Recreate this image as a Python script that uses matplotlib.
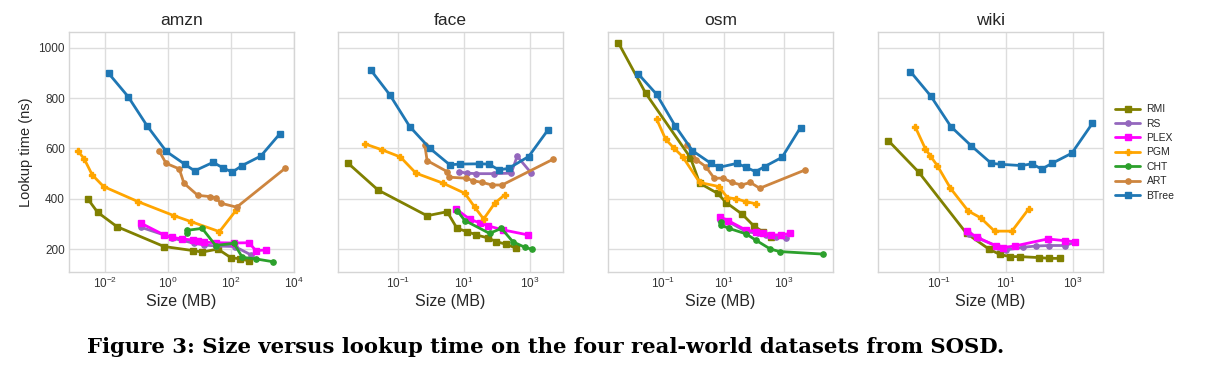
import matplotlib
matplotlib.use("Agg")
import matplotlib.pyplot as plt
import numpy as np

plt.style.use("seaborn-v0_8-whitegrid")
plt.rcParams["font.family"] = ["Liberation Sans", "DejaVu Sans"]
plt.rcParams["mathtext.fontset"] = "custom"
plt.rcParams["mathtext.rm"] = "Liberation Sans"
plt.rcParams["mathtext.it"] = "Liberation Sans:italic"
plt.rcParams["mathtext.bf"] = "Liberation Sans:bold"

datasets = ["amzn", "face", "osm", "wiki"]
methods = ["RMI", "RS", "PLEX", "PGM", "CHT", "ART", "BTree"]

# ---- amzn ----
amzn_RMI_x = [0.00288, 0.00575, 0.0237, 0.75, 6.17, 12.3, 38.9, 100, 195, 389]
amzn_RMI_y = [398, 347, 290, 211, 195, 189, 201, 167, 162, 154]
amzn_RS_x = [0.141, 0.75, 1.38, 6.92, 14.5, 34.7, 135, 437]
amzn_RS_y = [287, 257, 244, 224, 217, 213, 211, 178]
amzn_PLEX_x = [0.141, 0.75, 1.32, 2.75, 6.17, 8.91, 14.5, 34.7, 126, 380, 631, 1288]
amzn_PLEX_y = [303, 257, 248, 241, 237, 234, 228, 226, 225, 226, 195, 197]
amzn_PGM_x = [0.00138, 0.00219, 0.00389, 0.00891, 0.112, 1.51, 5.37, 43.7, 151]
amzn_PGM_y = [590, 557, 495, 449, 389, 334, 310, 270, 356]
amzn_CHT_x = [3.98, 3.98, 12.3, 33.1, 126, 234, 617, 2138]
amzn_CHT_y = [265, 275, 283, 215, 224, 168, 162, 151]
amzn_ART_x = [0.537, 0.871, 2.29, 3.24, 8.91, 21.9, 33.1, 47.9, 155, 5370]
amzn_ART_y = [588, 541, 519, 462, 414, 409, 405, 383, 367, 521]
amzn_BTree_x = [0.0129, 0.0537, 0.219, 0.891, 3.47, 7.08, 27.5, 56.2, 112, 229, 912, 3715]
amzn_BTree_y = [898, 806, 689, 588, 537, 511, 545, 523, 506, 532, 570, 659]

# ---- face ----
face_RMI_x = [0.00302, 0.0245, 0.759, 3.09, 6.17, 12.6, 24.0, 53.7, 97.7, 195, 389]
face_RMI_y = [541, 435, 333, 349, 283, 270, 257, 245, 230, 220, 204]
face_RS_x = [7.08, 12.0, 24.0, 83.2, 275, 417, 1122]
face_RS_y = [508, 502, 500, 500, 502, 569, 502]
face_PLEX_x = [5.89, 15.1, 30.2, 53.7, 155, 891]
face_PLEX_y = [359, 319, 305, 293, 277, 257]
face_PGM_x = [0.00977, 0.0331, 0.117, 0.347, 2.34, 10.7, 21.4, 39.8, 87.1, 174]
face_PGM_y = [618, 594, 566, 502, 462, 422, 367, 320, 383, 416]
face_CHT_x = [6.31, 10.7, 60.3, 138, 309, 708, 1175]
face_CHT_y = [352, 314, 263, 283, 230, 208, 200]
face_ART_x = [0.646, 0.759, 3.09, 3.55, 11.5, 19.1, 36.3, 72.4, 145, 5129]
face_ART_y = [614, 552, 508, 486, 482, 472, 465, 455, 455, 557]
face_BTree_x = [0.0145, 0.0562, 0.224, 0.912, 3.72, 7.41, 28.8, 56.2, 117, 229, 933, 3631]
face_BTree_y = [912, 812, 687, 601, 535, 538, 539, 538, 515, 521, 568, 674]

# ---- osm ----
osm_RMI_x = [0.00324, 0.0263, 0.794, 1.62, 6.31, 12.3, 41.7, 100, 204, 380]
osm_RMI_y = [1020, 819, 564, 462, 422, 385, 339, 293, 269, 248]
osm_RS_x = [7.41, 14.1, 56.2, 138, 263, 562, 1202]
osm_RS_y = [316, 310, 270, 263, 257, 248, 244]
osm_PLEX_x = [7.41, 14.1, 53.7, 123, 204, 380, 813, 1622]
osm_PLEX_y = [330, 314, 277, 270, 263, 257, 257, 263]
osm_PGM_x = [0.0603, 0.12, 0.224, 0.437, 1.62, 6.92, 13.5, 26.3, 56.2, 123]
osm_PGM_y = [717, 637, 602, 568, 465, 449, 405, 400, 389, 380]
osm_CHT_x = [7.94, 7.94, 15.1, 56.2, 115, 355, 724, 19498]
osm_CHT_y = [310, 297, 283, 261, 237, 201, 191, 181]
osm_ART_x = [0.617, 1.26, 2.57, 4.9, 9.55, 19.5, 38.9, 77.6, 158, 5129]
osm_ART_y = [614, 555, 528, 482, 482, 465, 455, 465, 442, 515]
osm_BTree_x = [0.0148, 0.0603, 0.245, 0.933, 3.8, 7.08, 28.2, 56.2, 115, 229, 871, 3548]
osm_BTree_y = [896, 815, 691, 591, 541, 525, 541, 525, 508, 528, 565, 683]

# ---- wiki ----
wiki_RMI_x = [0.00302, 0.0245, 0.661, 3.09, 6.46, 12.9, 25.7, 100, 200, 417]
wiki_RMI_y = [631, 506, 263, 201, 180, 171, 171, 167, 164, 164]
wiki_RS_x = [0.776, 1.45, 5.75, 9.77, 32.4, 79.4, 200, 589, 1175]
wiki_RS_y = [261, 244, 211, 197, 208, 213, 215, 215, 228]
wiki_PLEX_x = [0.661, 1.35, 5.13, 8.13, 18.2, 178, 589, 1175]
wiki_PLEX_y = [274, 248, 213, 207, 213, 241, 234, 230]
wiki_PGM_x = [0.0195, 0.0389, 0.055, 0.0891, 0.219, 0.741, 1.74, 4.57, 15.1, 47.9]
wiki_PGM_y = [684, 598, 570, 531, 442, 352, 325, 272, 272, 360]
wiki_BTree_x = [0.0138, 0.0562, 0.224, 0.923, 3.63, 7.24, 28.8, 60.3, 117, 240, 933, 3890]
wiki_BTree_y = [905, 808, 687, 610, 541, 537, 532, 539, 518, 541, 581, 700]

data = {
    "amzn": {"RMI": (amzn_RMI_x, amzn_RMI_y), "RS": (amzn_RS_x, amzn_RS_y),
             "PLEX": (amzn_PLEX_x, amzn_PLEX_y), "PGM": (amzn_PGM_x, amzn_PGM_y),
             "CHT": (amzn_CHT_x, amzn_CHT_y), "ART": (amzn_ART_x, amzn_ART_y),
             "BTree": (amzn_BTree_x, amzn_BTree_y)},
    "face": {"RMI": (face_RMI_x, face_RMI_y), "RS": (face_RS_x, face_RS_y),
             "PLEX": (face_PLEX_x, face_PLEX_y), "PGM": (face_PGM_x, face_PGM_y),
             "CHT": (face_CHT_x, face_CHT_y), "ART": (face_ART_x, face_ART_y),
             "BTree": (face_BTree_x, face_BTree_y)},
    "osm": {"RMI": (osm_RMI_x, osm_RMI_y), "RS": (osm_RS_x, osm_RS_y),
            "PLEX": (osm_PLEX_x, osm_PLEX_y), "PGM": (osm_PGM_x, osm_PGM_y),
            "CHT": (osm_CHT_x, osm_CHT_y), "ART": (osm_ART_x, osm_ART_y),
            "BTree": (osm_BTree_x, osm_BTree_y)},
    "wiki": {"RMI": (wiki_RMI_x, wiki_RMI_y), "RS": (wiki_RS_x, wiki_RS_y),
             "PLEX": (wiki_PLEX_x, wiki_PLEX_y), "PGM": (wiki_PGM_x, wiki_PGM_y),
             "BTree": (wiki_BTree_x, wiki_BTree_y)},
}

styles = {
    "RMI": dict(color="#808000", marker="s", ms=4.3),
    "RS": dict(color="#9467bd", marker="o", ms=3.8),
    "PLEX": dict(color="#ff00ff", marker="s", ms=4.3),
    "PGM": dict(color="#ffa500", marker="P", ms=3.8),
    "CHT": dict(color="#2ca02c", marker="o", ms=3.8),
    "ART": dict(color="#cd853f", marker="o", ms=3.8),
    "BTree": dict(color="#1f77b4", marker="s", ms=4.3),
}

xlims = {"amzn": (10**-3.15, 10**4.0), "face": (10**-2.82, 10**4.01),
         "osm": (10**-2.82, 10**4.62), "wiki": (10**-2.82, 10**3.9)}
xticks = {"amzn": [1e-2, 1e0, 1e2, 1e4], "face": [1e-1, 1e1, 1e3],
          "osm": [1e-1, 1e1, 1e3], "wiki": [1e-1, 1e1, 1e3]}
lefts = [0.0567, 0.278, 0.4998, 0.7217]

fig = plt.figure(figsize=(12.17, 3.67), dpi=100)
handles = {}
for i, name in enumerate(datasets):
    ax = fig.add_axes([lefts[i], 0.2589, 0.1845, 0.654])
    for m in methods:
        if m not in data[name]:
            continue
        xs, ys = data[name][m]
        st = styles[m]
        ln, = ax.plot(xs, ys, color=st["color"], marker=st["marker"],
                      markersize=st["ms"], lw=2.0, label=m)
        handles[m] = ln
    ax.set_xscale("log")
    ax.set_xlim(*xlims[name])
    ax.set_xticks(xticks[name])
    ax.xaxis.set_minor_locator(matplotlib.ticker.NullLocator())
    ax.set_ylim(110, 1062)
    ax.set_yticks([200, 400, 600, 800, 1000])
    ax.tick_params(axis="both", length=0, labelsize=8.5, colors="#333333", pad=3)
    ax.grid(True, color="#dddddd", lw=1)
    for sp in ax.spines.values():
        sp.set_color("#d5d5d5")
        sp.set_linewidth(1)
    ax.set_title(name, fontsize=12.5, color="#262626", pad=5)
    ax.set_xlabel("Size (MB)", fontsize=11.5, color="#262626", labelpad=2)
    if i == 0:
        ax.set_ylabel("Lookup time (ns)", fontsize=10.5, color="#262626")
    else:
        ax.set_yticklabels([])

leg_handles = [handles[m] for m in methods if m in handles]
fig.legend(leg_handles, [h.get_label() for h in leg_handles],
           loc="center left", bbox_to_anchor=(0.913, 0.5845), frameon=False,
           fontsize=7.5, handlelength=2.4, handletextpad=0.6, labelspacing=0.42,
           borderaxespad=0)

fig.text(0.0715, 0.054, "Figure 3: Size versus lookup time on the four real-world datasets from SOSD.",
         fontsize=15.2, fontweight="bold", family="DejaVu Serif", ha="left", va="center",
         color="black")

fig.savefig("out.png", dpi=100)
